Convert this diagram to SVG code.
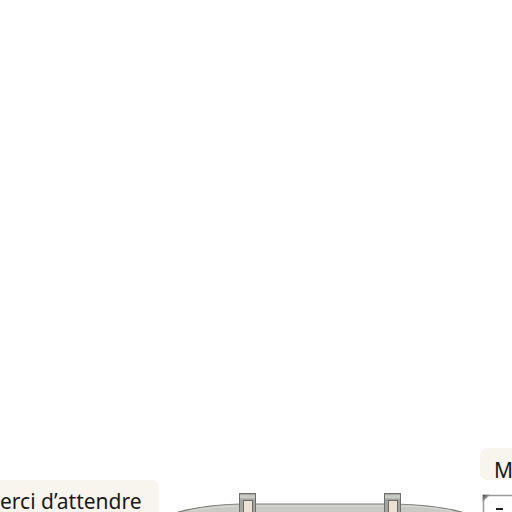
<svg xmlns="http://www.w3.org/2000/svg" width="512" height="512" viewBox="0 0 512 512">
<style>
.lbl{fill:#f8f4ee}
.txt{font-family:"Noto Sans","DejaVu Sans",sans-serif;font-size:21px;fill:#1a1a1a}
.clip{fill:#a4a4a0;stroke:#6e6e6c;stroke-width:1}
.band{fill:#cacac6}
.inner{fill:#ebe2d2;stroke:#6a6a68;stroke-width:1}
</style>
<rect width="512" height="512" fill="#ffffff"/>
<g id="label-left">
<rect class="lbl" x="-10" y="480" width="169" height="50" rx="7"/>
<text class="txt" x="0" y="508.5">erci d’attendre</text>
</g>
<g id="label-right">
<rect class="lbl" x="480" y="448" width="50" height="32" rx="7"/>
<text class="txt" x="494" y="477.5">M</text>
</g>
<g id="tray">
<path d="M172 514 Q200 505 240 504 L395 504 Q440 505 468 514 Z" fill="#c9c9c5" stroke="#7c7c7a" stroke-width="1.2"/>
<path d="M190 511 Q215 506 240 506 L395 506 Q425 506 452 511" fill="none" stroke="#dcdcd8" stroke-width="1"/>
</g>
<g id="clip-1">
<rect class="clip" x="239.5" y="493.5" width="16" height="22"/>
<rect class="band" x="240" y="495" width="15" height="3.5"/>
<rect class="inner" x="243.5" y="500.5" width="9" height="14"/>
</g>
<g id="clip-2">
<rect class="clip" x="384.5" y="493.5" width="16" height="22"/>
<rect class="band" x="385" y="495" width="15" height="3.5"/>
<rect class="inner" x="388.5" y="500.5" width="9" height="14"/>
</g>
<g id="box-right">
<defs>
<linearGradient id="cg" x1="0" y1="0" x2="1" y2="1">
<stop offset="0" stop-color="#444"/>
<stop offset="0.5" stop-color="#999"/>
<stop offset="1" stop-color="#ddd"/>
</linearGradient>
</defs>
<rect x="483.5" y="495.5" width="40" height="30" fill="#ffffff" stroke="#9a9a98" stroke-width="1.5"/>
<path d="M482.7 494.7 L490 494.7 L482.7 502 Z" fill="url(#cg)"/>
<rect x="496" y="508" width="7" height="2" fill="#222"/>
</g>
<g id="connectors"></g>
</svg>
